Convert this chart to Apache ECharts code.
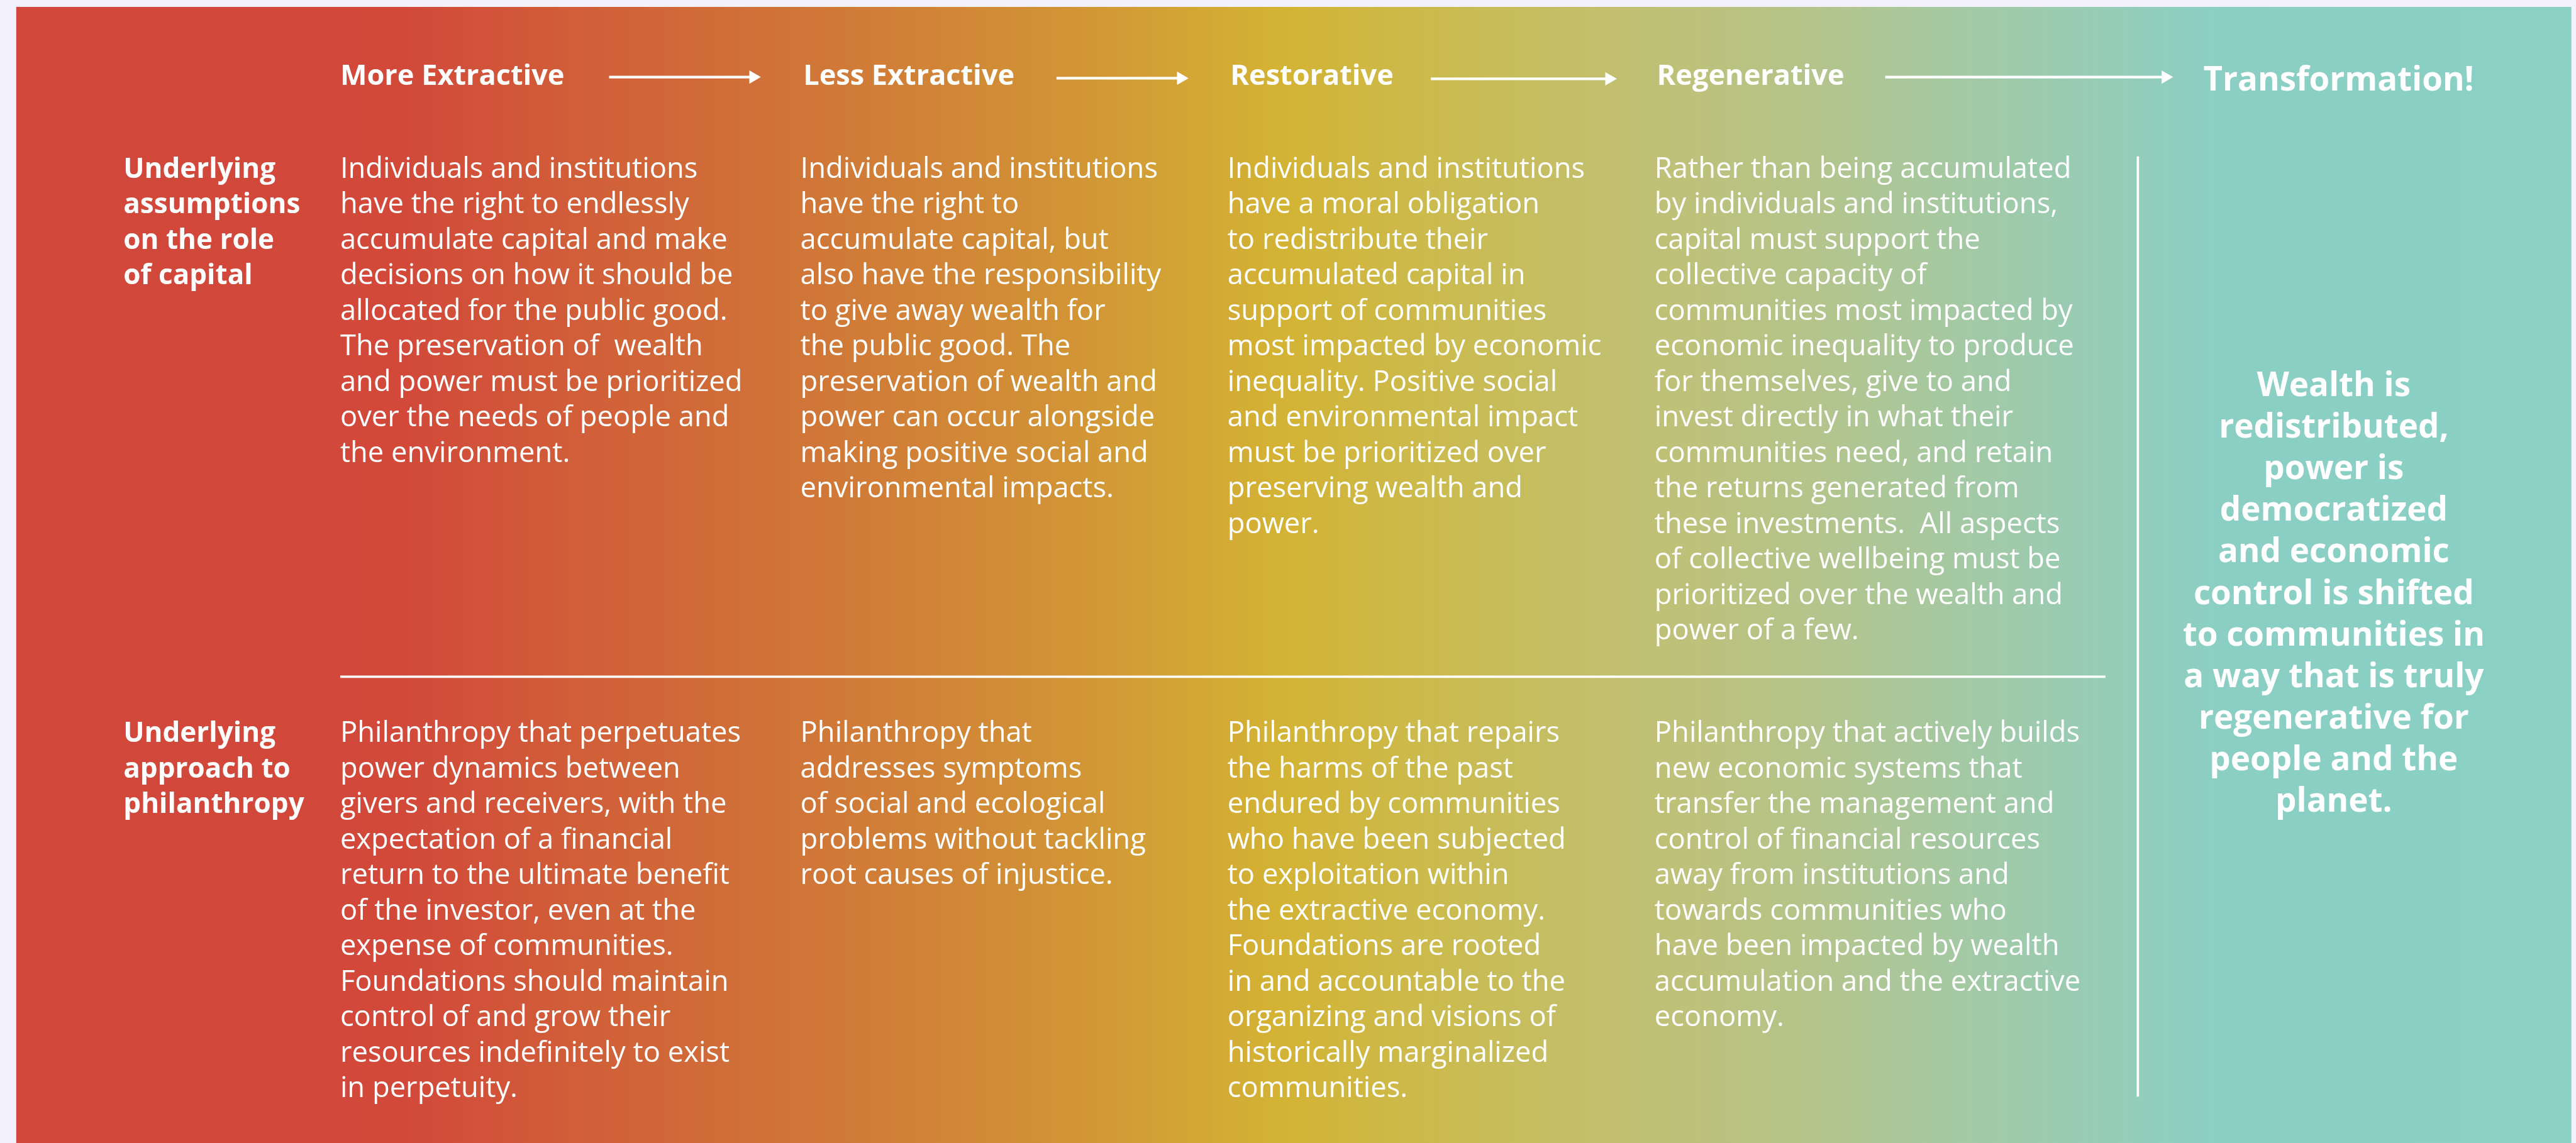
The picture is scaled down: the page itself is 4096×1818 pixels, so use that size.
<!DOCTYPE html>
<html>
<head>
<meta charset="utf-8">
<script src="https://cdn.jsdelivr.net/npm/echarts@6/dist/echarts.min.js"></script>
<style>
html,body{margin:0;padding:0;background:#f3f1fe;}
#chart{width:4096px;height:1818px;}
</style>
</head>
<body>
<div id="chart"></div>
<script>
// ---- content ----
const stages = ['More Extractive', 'Less Extractive', 'Restorative', 'Regenerative'];
const finalStage = 'Transformation!';
const rowLabels = [
  ['Underlying', 'assumptions', 'on the role', 'of capital'],
  ['Underlying', 'approach to', 'philanthropy']
];
const capitalTexts = [
  ['Individuals and institutions', 'have the right to endlessly', 'accumulate capital and make', 'decisions on how it should be', 'allocated for the public good.', 'The preservation of  wealth', 'and power must be prioritized', 'over the needs of people and', 'the environment.'],
  ['Individuals and institutions', 'have the right to', 'accumulate capital, but', 'also have the responsibility', 'to give away wealth for', 'the public good. The', 'preservation of wealth and', 'power can occur alongside', 'making positive social and', 'environmental impacts.'],
  ['Individuals and institutions', 'have a moral obligation', 'to redistribute their', 'accumulated capital in', 'support of communities', 'most impacted by economic', 'inequality. Positive social', 'and environmental impact', 'must be prioritized over', 'preserving wealth and', 'power.'],
  ['Rather than being accumulated', 'by individuals and institutions,', 'capital must support the', 'collective capacity of', 'communities most impacted by', 'economic inequality to produce', 'for themselves, give to and', 'invest directly in what their', 'communities need, and retain', 'the returns generated from', 'these investments.  All aspects', 'of collective wellbeing must be', 'prioritized over the wealth and', 'power of a few.']
];
const philanthropyTexts = [
  ['Philanthropy that perpetuates', 'power dynamics between', 'givers and receivers, with the', 'expectation of a financial', 'return to the ultimate benefit', 'of the investor, even at the', 'expense of communities.', 'Foundations should maintain', 'control of and grow their', 'resources indefinitely to exist', 'in perpetuity.'],
  ['Philanthropy that', 'addresses symptoms', 'of social and ecological', 'problems without tackling', 'root causes of injustice.'],
  ['Philanthropy that repairs', 'the harms of the past', 'endured by communities', 'who have been subjected', 'to exploitation within', 'the extractive economy.', 'Foundations are rooted', 'in and accountable to the', 'organizing and visions of', 'historically marginalized', 'communities.'],
  ['Philanthropy that actively builds', 'new economic systems that', 'transfer the management and', 'control of financial resources', 'away from institutions and', 'towards communities who', 'have been impacted by wealth', 'accumulation and the extractive', 'economy.']
];
const transformationText = ['Wealth is', 'redistributed,', 'power is', 'democratized', 'and economic', 'control is shifted', 'to communities in', 'a way that is truly', 'regenerative for', 'people and the', 'planet.'];

// ---- layout (reference pixel space, scaled) ----
const S = 4096 / 4445;
const FAM = '"Open Sans", "Noto Sans", sans-serif';
const mctx = document.createElement('canvas').getContext('2d');
function fit(text, weight, target) {
  mctx.font = weight + ' 100px "Open Sans"';
  return 100 * target * S / mctx.measureText(text).width;
}
const bodySize = fit('Individuals and institutions', 'normal', 617);
const labelSize = fit('philanthropy', 'bold', 312);
const headSize = fit('More Extractive', 'bold', 387);
const finalSize = fit('Transformation!', 'bold', 467);
const bigSize = fit('a way that is truly', 'bold', 518);

const colX = [587, 1381, 2118, 2855];
const headX = [587, 1386, 2123, 2859];
const arrows = [[1051, 1313, 133], [1823, 2051, 135], [2469, 2790, 136], [3253, 3750, 133]];
const LH = 61.3;
const row1Y = 293, row2Y = 1267;

const g = [];
// panel with gradient
g.push({
  type: 'rect', shape: {x: 28 * S, y: 12 * S, width: (4437 - 28) * S, height: 2000 * S},
  style: {fill: new echarts.graphic.LinearGradient(0, 0, 1, 0, [
    {offset: 0.000, color: '#d1473a'},
    {offset: 0.152, color: '#d2493a'},
    {offset: 0.220, color: '#d15e39'},
    {offset: 0.311, color: '#d07638'},
    {offset: 0.410, color: '#d29336'},
    {offset: 0.495, color: '#d3b334'},
    {offset: 0.557, color: '#cbbb4f'},
    {offset: 0.637, color: '#c0c074'},
    {offset: 0.700, color: '#b5c48a'},
    {offset: 0.765, color: '#a3c9a5'},
    {offset: 0.830, color: '#93cdba'},
    {offset: 0.862, color: '#8bcfc4'},
    {offset: 1.000, color: '#8ad0c5'}
  ])}
});

function textBlock(lines, x, yCenterFirst, size, weight, lh, align) {
  return {
    type: 'text', x: x * S, y: (yCenterFirst - lh / 2) * S,
    style: {
      text: lines.join('\n'), fill: '#ffffff', fontFamily: FAM, fontSize: size,
      fontWeight: weight, lineHeight: lh * S, align: align || 'left', verticalAlign: 'top'
    }
  };
}

// headers
stages.forEach((s, i) => g.push(textBlock([s], headX[i], 133, headSize, 'bold', LH)));
g.push(textBlock([finalStage], 3802, 140, finalSize, 'bold', LH));
// arrows
arrows.forEach(a => {
  g.push({type: 'line', shape: {x1: a[0] * S, y1: a[2] * S, x2: (a[1] - 18) * S, y2: a[2] * S},
    style: {stroke: '#ffffff', lineWidth: 4.5 * S}});
  g.push({type: 'polygon', shape: {points: [[(a[1] - 20) * S, (a[2] - 11.5) * S], [a[1] * S, a[2] * S], [(a[1] - 20) * S, (a[2] + 11.5) * S]]},
    style: {fill: '#ffffff'}});
});
// row labels
g.push(textBlock(rowLabels[0], 213, row1Y, labelSize, 'bold', LH));
g.push(textBlock(rowLabels[1], 213, row2Y, labelSize, 'bold', LH));
// body
capitalTexts.forEach((t, i) => g.push(textBlock(t, colX[i], row1Y, bodySize, 'normal', LH)));
philanthropyTexts.forEach((t, i) => g.push(textBlock(t, colX[i], row2Y, bodySize, 'normal', LH)));
// dividers
g.push({type: 'line', shape: {x1: 587 * S, y1: 1168 * S, x2: 3633 * S, y2: 1168 * S}, style: {stroke: '#ffffff', lineWidth: 4 * S}});
g.push({type: 'line', shape: {x1: 3689 * S, y1: 270 * S, x2: 3689 * S, y2: 1893 * S}, style: {stroke: '#ffffff', lineWidth: 4 * S}});
// transformation text
g.push(textBlock(transformationText, 4027, 667, bigSize, 'bold', 71.8, 'center'));

const chart = echarts.init(document.getElementById('chart'), null, {renderer: 'canvas'});
chart.setOption({backgroundColor: '#f3f1fe', animation: false, graphic: {elements: g}});
</script>
</body>
</html>
